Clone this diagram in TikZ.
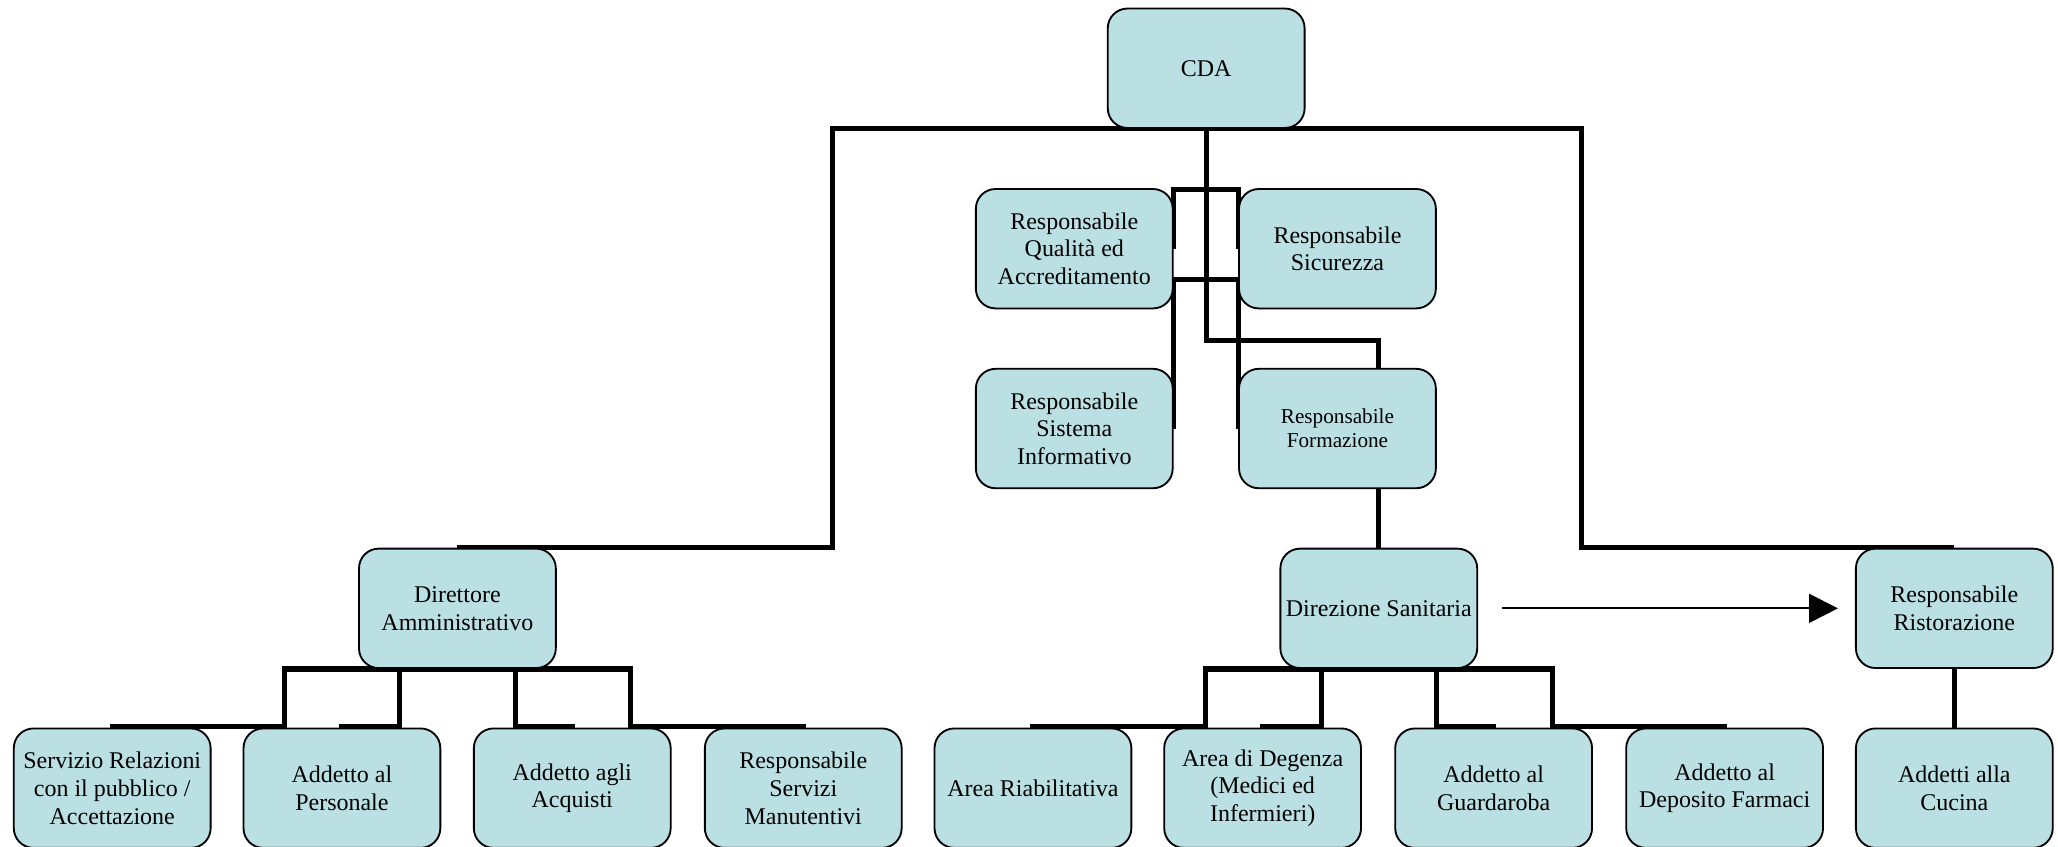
\documentclass[tikz,border=0pt]{standalone}
\usepackage{fontspec}
\setmainfont{Liberation Serif}
\usetikzlibrary{arrows.meta,backgrounds}
\definecolor{boxfill}{RGB}{187,224,227}

\begin{document}
\begin{tikzpicture}[x=0.02cm, y=-0.02cm,
    orgnode/.style={rectangle, rounded corners=0.3cm, draw=black, line width=0.8pt, fill=boxfill, minimum width=3cm, minimum height=1.82cm, inner sep=2pt, align=center, font=\fontsize{10.4}{12}\selectfont},
    link/.style={line width=2.2pt},
    ]
    \useasboundingbox (0,0) rectangle (1568,645);

    \node [orgnode] (cda) at (919,52) {CDA};

    \node [orgnode] (qual) at (818.5,189.5) {Responsabile\\Qualità ed\\Accreditamento};
    \node [orgnode] (sicur) at (1019,189.5) {Responsabile\\Sicurezza};
    \node [orgnode] (sistinf) at (818.5,326.5) {Responsabile\\Sistema\\Informativo};
    \node [orgnode,font=\fontsize{9.2}{10.3}\selectfont] (form) at (1019,326.5) {Responsabile\\Formazione};

    \node [orgnode] (diramm) at (348.5,463.5) {Direttore\\Amministrativo};
    \node [orgnode] (dirsan) at (1050.5,463.5) {Direzione Sanitaria};
    \node [orgnode] (ristor) at (1489,463.5) {Responsabile\\Ristorazione};

    \node [orgnode] (serv) at (85.5,600.5) {Servizio Relazioni\\con il pubblico /\\Accettazione};
    \node [orgnode] (pers) at (260.5,600.5) {Addetto al\\Personale};
    \node [orgnode] (acq) at (436,600.5) {Addetto agli\\Acquisti};
    \node [orgnode] (manut) at (612,600.5) {Responsabile\\Servizi\\Manutentivi};
    \node [orgnode] (riab) at (787,600.5) {Area Riabilitativa};
    \node [orgnode] (deg) at (962,600.5) {Area di Degenza\\(Medici ed\\Infermieri)};
    \node [orgnode] (guard) at (1138,600.5) {Addetto al\\Guardaroba};
    \node [orgnode] (farm) at (1314,600.5) {Addetto al\\Deposito Farmaci};
    \node [orgnode] (cucina) at (1489,600.5) {Addetti alla\\Cucina};

    \begin{scope}[on background layer]
    \draw [link] (cda.south) -- ++(-285,0) |- (diramm.north);
    \draw [link] (cda.south) -- ++(286,0) |- (ristor.north);
    \draw [link] (cda.south) -- ++(0,46) -| (qual.east);
    \draw [link] (cda.south) -- ++(0,46) -| (sicur.west);
    \draw [link] (cda.south) -- ++(0,115) -| (sistinf.east);
    \draw [link] (cda.south) -- ++(0,115) -| (form.west);
    \draw [link] (cda.south) -- ++(0,161) -| (dirsan.north);

    \draw [link] (diramm.south) -| ++(-132,44) -| (serv.north);
    \draw [link] (diramm.south) -| ++(-44,44) -| (pers.north);
    \draw [link] (diramm.south) -| ++(44,44) -| (acq.north);
    \draw [link] (diramm.south) -| ++(132,44) -| (manut.north);

    \draw [link] (dirsan.south) -| ++(-132,44) -| (riab.north);
    \draw [link] (dirsan.south) -| ++(-44,44) -| (deg.north);
    \draw [link] (dirsan.south) -| ++(44,44) -| (guard.north);
    \draw [link] (dirsan.south) -| ++(132,44) -| (farm.north);

    \draw [link] (ristor) -- (cucina);
    \end{scope}

    \draw [-{Triangle[length=0.44cm,width=0.44cm]}, line width=0.9pt, shorten <=0.37cm, shorten >=0.26cm] (dirsan.east) -- (ristor.west);
\end{tikzpicture}
\end{document}
